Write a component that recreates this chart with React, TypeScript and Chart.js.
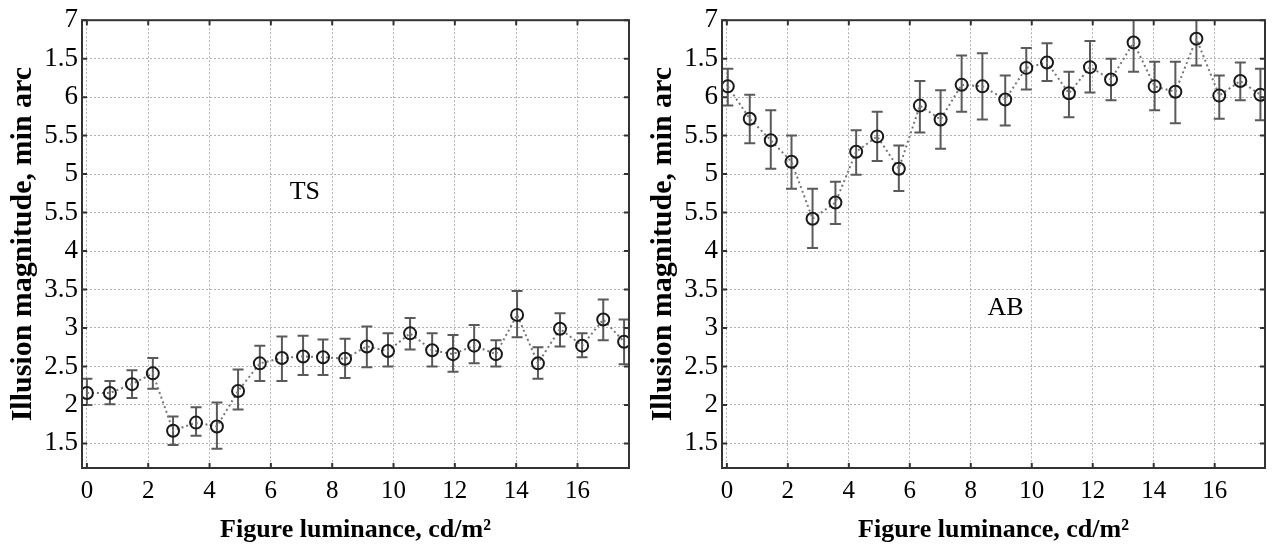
import React, { useEffect, useRef } from "react";
import { Chart, registerables } from "chart.js";

Chart.register(...registerables);

// ---------- data ----------
const tsX = [0, 0.75, 1.47, 2.15, 2.81, 3.56, 4.24, 4.93, 5.64, 6.36, 7.05, 7.7, 8.42, 9.13, 9.82, 10.54, 11.26, 11.94, 12.63, 13.34, 14.03, 14.71, 15.43, 16.15, 16.84, 17.52];
const tsY = [2.155, 2.155, 2.27, 2.41, 1.665, 1.77, 1.72, 2.18, 2.54, 2.61, 2.63, 2.62, 2.6, 2.76, 2.7, 2.93, 2.71, 2.66, 2.77, 2.66, 3.17, 2.54, 2.99, 2.77, 3.11, 2.82];
const tsHigh = [2.34, 2.31, 2.45, 2.61, 1.85, 1.97, 2.03, 2.46, 2.77, 2.89, 2.9, 2.85, 2.86, 3.02, 2.93, 3.13, 2.93, 2.91, 3.04, 2.84, 3.48, 2.75, 3.19, 2.93, 3.37, 3.11];
const tsLow = [2.0, 2.01, 2.09, 2.21, 1.48, 1.6, 1.43, 1.94, 2.31, 2.31, 2.39, 2.39, 2.35, 2.49, 2.5, 2.72, 2.5, 2.43, 2.54, 2.5, 2.88, 2.34, 2.76, 2.62, 2.84, 2.53];

const abX = [0.03, 0.75, 1.44, 2.12, 2.81, 3.56, 4.24, 4.93, 5.64, 6.33, 7.01, 7.7, 8.38, 9.13, 9.82, 10.5, 11.22, 11.91, 12.6, 13.34, 14.03, 14.71, 15.4, 16.15, 16.84, 17.5];
const abY = [6.14, 5.72, 5.44, 5.16, 4.42, 4.63, 5.29, 5.49, 5.07, 5.89, 5.71, 6.16, 6.14, 5.97, 6.38, 6.45, 6.05, 6.39, 6.23, 6.71, 6.14, 6.07, 6.76, 6.02, 6.21, 6.03];
const abHigh = [6.37, 6.03, 5.83, 5.5, 4.81, 4.9, 5.57, 5.81, 5.37, 6.21, 6.09, 6.54, 6.57, 6.28, 6.64, 6.7, 6.33, 6.73, 6.5, 7.1, 6.46, 6.46, 7.1, 6.28, 6.45, 6.37];
const abLow = [5.89, 5.4, 5.07, 4.81, 4.04, 4.35, 4.99, 5.17, 4.78, 5.54, 5.33, 5.81, 5.71, 5.63, 6.1, 6.21, 5.74, 6.06, 5.96, 6.33, 5.83, 5.66, 6.41, 5.72, 5.96, 5.7];

const xTickValues = [0, 2, 4, 6, 8, 10, 12, 14, 16];
const yTickValues = [1.5, 2, 2.5, 3, 3.5, 4, 4.5, 5, 5.5, 6, 6.5, 7];
const yTickLabels = ["1.5", "2", "2.5", "3", "3.5", "4", "5.5", "5", "5.5", "6", "1.5", "7"];

const xTitle = "Figure luminance, cd/m²";
const yTitle = "Illusion magnitude, min arc";

const FONT = '"Liberation Serif", "Times New Roman", serif';

type PanelProps = {
  xs: number[];
  ys: number[];
  highs: number[];
  lows: number[];
  label: string;
  labelX: number;
  labelY: number;
  xMin: number;
  xMax: number;
  width: number;
  rightPad: number;
};

function Panel(p: PanelProps) {
  const ref = useRef<HTMLCanvasElement | null>(null);
  useEffect(() => {
    if (!ref.current) return;
    const errPlugin = {
      id: "errbars",
      beforeDatasetsDraw(chart: any) {
        const { ctx, chartArea, scales } = chart;
        const x = scales.x, y = scales.y;
        ctx.save();
        ctx.beginPath();
        ctx.rect(chartArea.left, chartArea.top, chartArea.right - chartArea.left, chartArea.bottom - chartArea.top);
        ctx.clip();
        ctx.strokeStyle = "#5a5a5a";
        ctx.lineWidth = 2;
        for (let i = 0; i < p.xs.length; i++) {
          const px = x.getPixelForValue(p.xs[i]);
          const pt = y.getPixelForValue(p.highs[i]);
          const pb = y.getPixelForValue(p.lows[i]);
          ctx.beginPath();
          ctx.moveTo(px, pt);
          ctx.lineTo(px, pb);
          ctx.moveTo(px - 5.5, pt);
          ctx.lineTo(px + 5.5, pt);
          ctx.moveTo(px - 5.5, pb);
          ctx.lineTo(px + 5.5, pb);
          ctx.stroke();
        }
        ctx.restore();
      },
    };
    const framePlugin = {
      id: "frame",
      afterDraw(chart: any) {
        const { ctx, chartArea, scales } = chart;
        const { left, right, top, bottom } = chartArea;
        ctx.save();
        ctx.strokeStyle = "#333";
        ctx.lineWidth = 2;
        ctx.beginPath();
        for (const v of xTickValues) {
          const px = scales.x.getPixelForValue(v);
          ctx.moveTo(px, bottom);
          ctx.lineTo(px, bottom - 5);
          ctx.moveTo(px, top);
          ctx.lineTo(px, top + 5);
        }
        for (const v of yTickValues) {
          const py = scales.y.getPixelForValue(v);
          ctx.moveTo(left, py);
          ctx.lineTo(left + 5, py);
          ctx.moveTo(right, py);
          ctx.lineTo(right - 5, py);
        }
        ctx.stroke();
        ctx.strokeRect(left, top, right - left, bottom - top);
        ctx.font = `26px ${FONT}`;
        ctx.fillStyle = "#000";
        ctx.textAlign = "center";
        ctx.textBaseline = "middle";
        ctx.fillText(p.label, scales.x.getPixelForValue(p.labelX), scales.y.getPixelForValue(p.labelY));
        ctx.restore();
      },
    };
    const chart = new Chart(ref.current, {
      type: "line",
      data: {
        datasets: [
          {
            data: p.xs.map((x, i) => ({ x, y: p.ys[i] })),
            borderColor: "#777",
            borderWidth: 2,
            borderDash: [2, 3],
            pointRadius: 6,
            pointBorderWidth: 2,
            pointBorderColor: "#1a1a1a",
            pointBackgroundColor: "rgba(0,0,0,0)",
            fill: false,
            tension: 0,
          },
        ],
      },
      options: {
        animation: false,
        responsive: false,
        layout: { padding: { top: 16, right: p.rightPad, left: 0, bottom: 0 } },
        plugins: { legend: { display: false }, tooltip: { enabled: false } },
        scales: {
          x: {
            type: "linear",
            min: p.xMin,
            max: p.xMax,
            afterBuildTicks: (s: any) => {
              s.ticks = xTickValues.map((v) => ({ value: v }));
            },
            afterFit: (s: any) => {
              s.height = 80;
            },
            grid: { color: "#b0b0b0", lineWidth: 1, drawTicks: false },
            border: { display: false, dash: [2, 2] },
            ticks: {
              color: "#000",
              padding: 8,
              maxRotation: 0,
              autoSkip: false,
              font: { family: FONT, size: 25 },
              callback: (v: any) => String(v),
            },
            title: {
              display: true,
              text: xTitle,
              color: "#000",
              padding: { top: 0, bottom: 2 },
              font: { family: FONT, size: 26, weight: "bold" },
            },
          },
          y: {
            type: "linear",
            min: 1.18,
            max: 7,
            afterBuildTicks: (s: any) => {
              s.ticks = yTickValues.map((v) => ({ value: v }));
            },
            afterFit: (s: any) => {
              s.width = 82;
            },
            grid: { color: "#b0b0b0", lineWidth: 1, drawTicks: false },
            border: { display: false, dash: [2, 2] },
            ticks: {
              color: "#000",
              padding: 4,
              autoSkip: false,
              font: { family: FONT, size: 27 },
              callback: (v: any) => {
                const idx = yTickValues.indexOf(Number(v));
                return idx >= 0 ? yTickLabels[idx] : "";
              },
            },
            title: {
              display: true,
              text: yTitle,
              color: "#000",
              padding: { top: 5, bottom: 0 },
              font: { family: FONT, size: 30, weight: "bold" },
            },
          },
        },
      },
      plugins: [errPlugin, framePlugin],
    });
    return () => chart.destroy();
  }, []);
  return <canvas ref={ref} width={p.width} height={548} style={{ display: "block", width: p.width, height: 548 }} />;
}

export default function App() {
  return (
    <div style={{ position: "absolute", left: 0, top: 0, width: 1273, height: 548, background: "#fff", display: "flex" }}>
      <Panel xs={tsX} ys={tsY} highs={tsHigh} lows={tsLow} label="TS" labelX={7.11} labelY={4.77} xMin={-0.16} xMax={17.68} width={640} rightPad={11} />
      <Panel xs={abX} ys={abY} highs={abHigh} lows={abLow} label="AB" labelX={9.14} labelY={3.26} xMin={-0.16} xMax={17.65} width={633} rightPad={5} />
    </div>
  );
}
